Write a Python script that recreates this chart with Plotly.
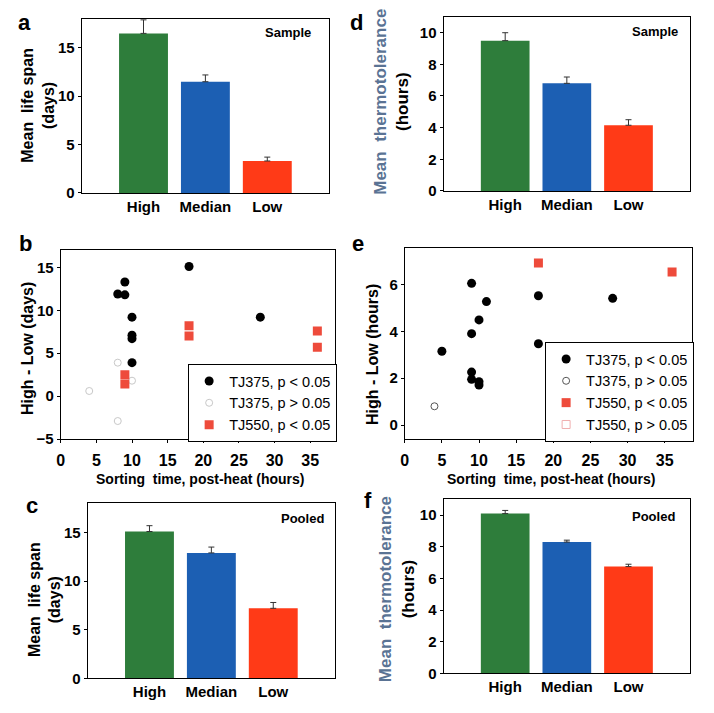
import plotly.graph_objects as go

# ---------------- data ----------------
categories = ["High", "Median", "Low"]

lifespan_sample = [16.5, 11.5, 3.3]
lifespan_sample_err = [1.4, 0.7, 0.4]
thermo_sample = [9.5, 6.8, 4.15]
thermo_sample_err = [0.5, 0.4, 0.35]
lifespan_pooled = [15.1, 12.9, 7.2]
lifespan_pooled_err = [0.6, 0.6, 0.6]
thermo_pooled = [10.1, 8.3, 6.75]
thermo_pooled_err = [0.2, 0.12, 0.15]

# panel b: High - Low (days)
b_tj375_sig_x = [18, 9, 8, 9, 10, 28, 10, 10, 10]
b_tj375_sig_y = [15.1, 13.3, 11.9, 11.8, 9.2, 9.2, 7.1, 6.7, 3.9]
b_tj375_ns_x = [4, 8, 8, 10]
b_tj375_ns_y = [0.6, 3.9, -2.9, 1.8]
b_tj550_sig_x = [9, 9, 18, 18, 36, 36]
b_tj550_sig_y = [2.5, 1.4, 8.2, 7.0, 7.6, 5.7]

# panel e: High - Low (hours)
e_tj375_sig_x = [5, 9, 11, 10, 9, 18, 18, 28, 9, 9, 10, 10]
e_tj375_sig_y = [3.15, 6.05, 5.27, 4.49, 3.9, 5.52, 3.47, 5.41, 2.26, 1.95, 1.85, 1.71]
e_tj375_ns_x = [4]
e_tj375_ns_y = [0.8]
e_tj550_sig_x = [18, 36]
e_tj550_sig_y = [6.92, 6.54]
e_tj550_ns_x = [None]
e_tj550_ns_y = [None]

# ---------------- styling ----------------
PAGE_W, PAGE_H = 714, 713
OFF = 8  # default body margin of the html page
W, H = PAGE_W - OFF, PAGE_H - OFF
FONT = "Liberation Sans, Arial, sans-serif"
BAR_COLORS = ["#2e7d3b", "#1c5fb3", "#ff3a17"]
BLACK = "#000000"
RED = "#ee4b3b"
SLATE = "#5a7394"


def px(x):
    return (x - OFF) / W


def py(y):
    return 1 - (y - OFF) / H


def dx(x0, x1):
    return [px(x0), px(x1)]


def dy(y0, y1):
    return [py(y1), py(y0)]


fig = go.Figure()

bar_panels = [
    ("x", "y", lifespan_sample, lifespan_sample_err),
    ("x3", "y3", lifespan_pooled, lifespan_pooled_err),
    ("x4", "y4", thermo_sample, thermo_sample_err),
    ("x6", "y6", thermo_pooled, thermo_pooled_err),
]
for xa, ya, vals, errs in bar_panels:
    fig.add_trace(go.Bar(
        x=categories, y=vals, xaxis=xa, yaxis=ya,
        marker=dict(color=BAR_COLORS, line=dict(width=0)),
        error_y=dict(type="data", array=errs, arrayminus=[0, 0, 0], symmetric=False,
                     color="#333333", thickness=1, width=3),
        showlegend=False,
    ))

# scatter b
fig.add_trace(go.Scatter(x=b_tj375_sig_x, y=b_tj375_sig_y, xaxis="x2", yaxis="y2", mode="markers",
                         marker=dict(symbol="circle", size=9, color=BLACK),
                         name="TJ375, p < 0.05", legend="legend"))
fig.add_trace(go.Scatter(x=b_tj375_ns_x, y=b_tj375_ns_y, xaxis="x2", yaxis="y2", mode="markers",
                         marker=dict(symbol="circle-open", size=7, color="#c8c8c8", line=dict(width=1)),
                         name="TJ375, p > 0.05", legend="legend"))
fig.add_trace(go.Scatter(x=b_tj550_sig_x, y=b_tj550_sig_y, xaxis="x2", yaxis="y2", mode="markers",
                         marker=dict(symbol="square", size=9, color=RED),
                         name="TJ550, p < 0.05", legend="legend"))

# scatter e
fig.add_trace(go.Scatter(x=e_tj375_sig_x, y=e_tj375_sig_y, xaxis="x5", yaxis="y5", mode="markers",
                         marker=dict(symbol="circle", size=9, color=BLACK),
                         name="TJ375, p < 0.05", legend="legend2"))
fig.add_trace(go.Scatter(x=e_tj375_ns_x, y=e_tj375_ns_y, xaxis="x5", yaxis="y5", mode="markers",
                         marker=dict(symbol="circle-open", size=7, color="#555555", line=dict(width=1)),
                         name="TJ375, p > 0.05", legend="legend2"))
fig.add_trace(go.Scatter(x=e_tj550_sig_x, y=e_tj550_sig_y, xaxis="x5", yaxis="y5", mode="markers",
                         marker=dict(symbol="square", size=9, color=RED),
                         name="TJ550, p < 0.05", legend="legend2"))
fig.add_trace(go.Scatter(x=e_tj550_ns_x, y=e_tj550_ns_y, xaxis="x5", yaxis="y5", mode="markers",
                         marker=dict(symbol="square-open", size=8, color="#f0b0b0", line=dict(width=1)),
                         name="TJ550, p > 0.05", legend="legend2"))

tickfont = dict(family=FONT, size=15, color=BLACK, weight="bold")
tickfont_sc = dict(family=FONT, size=16, color=BLACK, weight="bold")
axis_common = dict(showline=True, linecolor=BLACK, linewidth=1, mirror=True,
                   showgrid=False, zeroline=False, tickfont=tickfont,
                   ticks="outside", ticklen=3, tickcolor=BLACK)

bar_x = dict(axis_common, type="category", range=[-1, 3], ticks="")
sc_x = dict(axis_common, tickfont=tickfont_sc, ticklabelstandoff=4,
            tickvals=[0, 5, 10, 15, 20, 25, 30, 35])

legend_style = dict(xanchor="right", yanchor="bottom",
                    bgcolor="white", bordercolor=BLACK, borderwidth=1,
                    font=dict(family=FONT, size=14.5, color=BLACK), itemwidth=30,
                    tracegroupgap=0)

fig.update_layout(
    width=W, height=H,
    margin=dict(l=0, r=0, t=0, b=0),
    paper_bgcolor="white", plot_bgcolor="white",
    bargap=0.21,
    font=dict(family=FONT, color=BLACK),
    # panel a
    xaxis=dict(bar_x, domain=dx(78, 327), anchor="y"),
    yaxis=dict(axis_common, domain=dy(19, 195), anchor="x", range=[0, 18], tickvals=[0, 5, 10, 15]),
    # panel b
    xaxis2=dict(sc_x, domain=dx(57, 333), anchor="y2", range=[0, 38.5]),
    yaxis2=dict(axis_common, domain=dy(253, 444), anchor="x2", range=[-5, 17], tickvals=[-5, 0, 5, 10, 15]),
    # panel c
    xaxis3=dict(bar_x, domain=dx(84, 333), anchor="y3"),
    yaxis3=dict(axis_common, domain=dy(509, 686), anchor="x3", range=[0, 18], tickvals=[0, 5, 10, 15]),
    # panel d
    xaxis4=dict(bar_x, domain=dx(442, 690), anchor="y4"),
    yaxis4=dict(axis_common, domain=dy(17, 193), anchor="x4", range=[0, 11], tickvals=[0, 2, 4, 6, 8, 10]),
    # panel e
    xaxis5=dict(sc_x, domain=dx(403, 692), anchor="y5", range=[0, 38.7]),
    yaxis5=dict(axis_common, domain=dy(251, 444), anchor="x5", range=[-0.6, 7.55], tickvals=[0, 2, 4, 6]),
    # panel f
    xaxis6=dict(bar_x, domain=dx(442, 690), anchor="y6"),
    yaxis6=dict(axis_common, domain=dy(505, 681), anchor="x6", range=[0, 11], tickvals=[0, 2, 4, 6, 8, 10]),
    legend=dict(legend_style, x=px(335), y=py(447)),
    legend2=dict(legend_style, x=px(694), y=py(447)),
)

ann = []


def text(x, y, t, size, bold=True, angle=0, color=BLACK, xanchor="center", yanchor="middle"):
    ann.append(dict(x=px(x), y=py(y), xref="paper", yref="paper", text=t, showarrow=False,
                    textangle=angle, xanchor=xanchor, yanchor=yanchor,
                    font=dict(family=FONT, size=size, color=color, weight="bold" if bold else "normal")))


# panel letters
text(21, 23, "a", 22)
text(354, 23, "d", 22)
text(22, 246, "b", 22)
text(356, 246, "e", 22)
text(28, 511, "c", 22)
text(366, 506, "f", 22)

# corner labels
text(286, 33, "Sample", 13)
text(655, 32, "Sample", 13)
text(300, 524, "Pooled", 13)
text(653, 522, "Pooled", 13)

# y titles
text(34, 106, "Mean  life span<br>(days)", 16, angle=-90)
text(41, 606, "Mean  life span<br>(days)", 16, angle=-90)
text(390, 103, f"<span style='color:{SLATE}'>Mean  thermotolerance</span><br>(hours)", 17, angle=-90)
text(395, 596, f"<span style='color:{SLATE}'>Mean  thermotolerance</span><br>(hours)", 17, angle=-90)
text(23, 352, "High - Low (days)", 16, angle=-90)
text(370, 358, "High - Low (hours)", 16, angle=-90)

# x titles for scatter panels
text(197, 484, "Sorting  time, post-heat (hours)", 14)
text(550, 484, "Sorting  time, post-heat (hours)", 14)

fig.update_layout(annotations=ann)

fig.write_html("out.html")
